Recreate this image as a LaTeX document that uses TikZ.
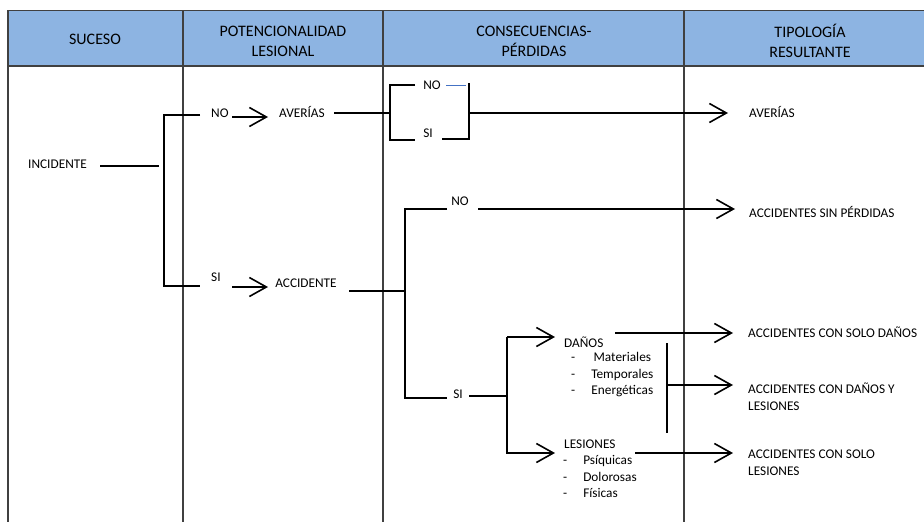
\documentclass[tikz,border=0pt]{standalone}
\usepackage{fontspec}
\setmainfont{Carlito}
\usetikzlibrary{arrows.meta}
\definecolor{hdr}{HTML}{8DB4E2}
\definecolor{colline}{HTML}{404040}
\definecolor{blueln}{HTML}{4472C4}
\begin{document}
\begin{tikzpicture}[x=1pt,y=-1pt,
  lbl/.style={inner sep=0pt, font=\fontsize{13.3}{16.5}\selectfont},
  hd/.style={inner sep=0pt, align=center, font=\fontsize{16}{20}\selectfont},
  ln/.style={line width=1.6pt, black},
  arr/.style={line width=1.6pt, black, -{Straight Barb[length=17pt,width=19pt,line width=1.6pt]}},
  cl/.style={line width=1.3pt, colline}]
\useasboundingbox (0,0) rectangle (924,522);
% header
\fill[hdr] (8,10) rectangle (924,66);
\draw[colline, line width=0.8pt] (8,10) -- (924,10);
\draw[colline, line width=1.8pt] (8,66) -- (924,66);
\foreach \x in {8,183,383,684} \draw[cl] (\x,10) -- (\x,522);
\node[hd] (h1) at (95,39) {SUCESO};
\node[hd] (h2) at (283,41) {POTENCIONALIDAD\\LESIONAL};
\node[hd] (h3) at (534,41) {CONSECUENCIAS-\\PÉRDIDAS};
\node[hd] (h4) at (810,41) {TIPOLOGÍA\\RESULTANTE};
% column 1
\node[lbl, anchor=west] (inc) at (28,164) {INCIDENTE};
\coordinate (b1) at (159,166);
\draw[ln] (100,166) -- (b1);
\draw[ln] (200,115) -- (164,115) -- (164,286) -- (200,286);
% NO / SI
\node[lbl, anchor=west] (no1) at (211,113) {NO};
\coordinate (a1) at (268,117);
\draw[arr] (232,117) -- (a1);
\node[lbl] (av1) at (302,112) {AVERÍAS};
\node[lbl, anchor=west] (si1) at (211,277) {SI};
\coordinate (a2) at (268,287);
\draw[arr] (232,287) -- (a2);
\node[lbl] (acc) at (306,283) {ACCIDENTE};
% averias bracket
\draw[ln] (334,113) -- (390,113);
\draw[ln] (415,85) -- (390,85) -- (390,140) -- (415,140);
\node[lbl] (no2) at (432,85) {NO};
\draw[blueln, line width=1pt] (446,85) -- (466,85);
\node[lbl] (si2) at (428,133) {SI};
\draw[ln] (442,139) -- (469,139) -- (469,83);
\coordinate (a3) at (728,113);
\draw[arr] (469,113) -- (a3);
\node[lbl, anchor=west] (r1) at (749,112) {AVERÍAS};
% accidente branches
\draw[ln] (349,291) -- (405,291);
\draw[ln] (447,209) -- (405,209) -- (405,398) -- (447,398);
\node[lbl] (no3) at (460,201) {NO};
\coordinate (a4) at (735,209);
\draw[arr] (478,209) -- (a4);
\node[lbl, anchor=west] (r2) at (749,212) {ACCIDENTES SIN PÉRDIDAS};
\node[lbl] (si3) at (458,394) {SI};
\draw[ln] (469,396) -- (507,396);
\draw[ln] (507,337) -- (507,454);
\coordinate (a5) at (555,337);
\coordinate (a6) at (555,453);
\draw[arr] (507,337) -- (a5);
\draw[arr] (507,453) -- (a6);
\node[lbl, anchor=west] (dan) at (564,342) {DAÑOS};
\node[lbl, anchor=north west, align=left] (danl) at (571,350) {%
  \begin{tabular}{@{}l@{\hspace{16pt}}c@{}}
  - & Materiales\\
  - & Temporales\\
  - & Energéticas
  \end{tabular}};
\node[lbl, anchor=west] (les) at (564,444) {LESIONES};
\node[lbl, anchor=north west, align=left] (lesl) at (563,453) {%
  \begin{tabular}{@{}l@{\hspace{16pt}}l@{}}
  - & Psíquicas\\
  - & Dolorosas\\
  - & Físicas
  \end{tabular}};
\coordinate (a7) at (733,333);
\draw[arr] (615,333) -- (a7);
\draw[ln] (667,343) -- (667,433);
\coordinate (a8) at (733,385);
\draw[arr] (667,385) -- (a8);
\coordinate (a9) at (733,453);
\draw[arr] (635,453) -- (a9);
\node[lbl, anchor=west] (r3) at (748,332) {ACCIDENTES CON SOLO DAÑOS};
\node[lbl, anchor=north west, align=left] (r4) at (748,383) {ACCIDENTES CON DAÑOS Y\\LESIONES};
\node[lbl, anchor=north west, align=left] (r5) at (748,450) {ACCIDENTES CON SOLO\\LESIONES};
\end{tikzpicture}
\end{document}
